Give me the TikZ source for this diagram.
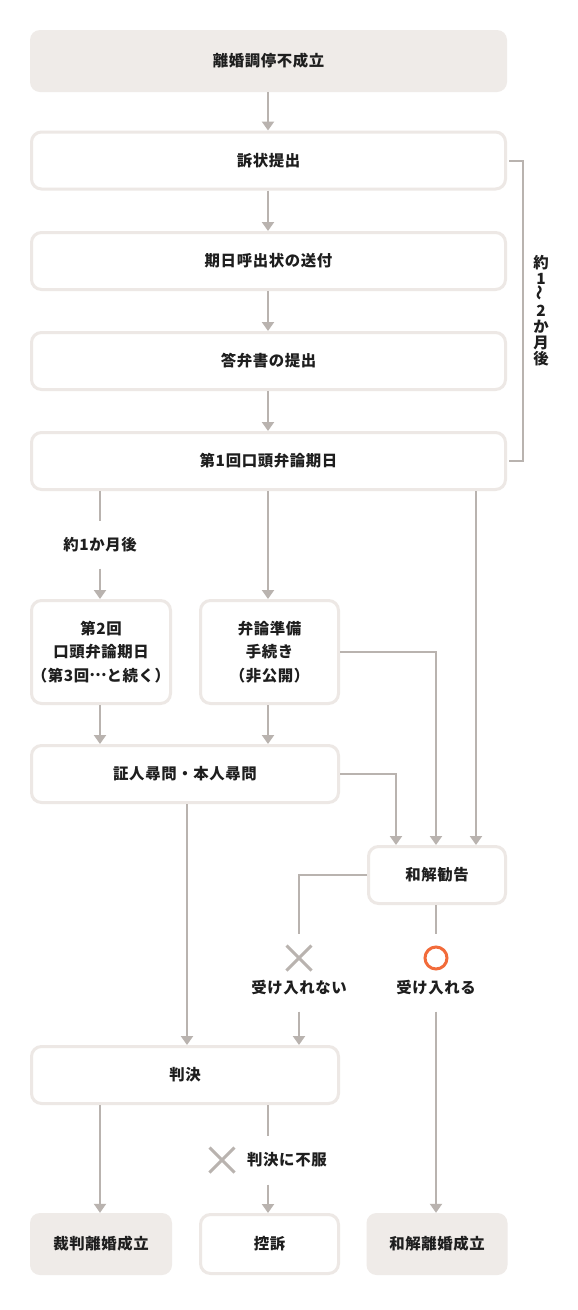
\documentclass[tikz,border=0pt]{standalone}
\usepackage{fontspec}
\setmainfont{Noto Sans CJK JP}
\usetikzlibrary{arrows.meta,shapes.misc}
\definecolor{boxfill}{HTML}{EFEBE8}
\definecolor{boxline}{HTML}{EDE8E5}
\definecolor{connc}{HTML}{B9B3AF}
\definecolor{txt}{HTML}{1E1E1E}
\definecolor{okc}{HTML}{F26B3A}
\begin{document}
\begin{tikzpicture}[x=1pt,y=-1pt,
  every node/.style={font=\fontsize{15.4}{23.5}\selectfont\bfseries\addfontfeatures{LetterSpace=4}, text=txt, align=center, inner sep=0pt},
  fbox/.style={fill=boxfill, rounded corners=10pt},
  wbox/.style={draw=boxline, line width=3pt, fill=white, rounded corners=10pt},
  conn/.style={draw=connc, line width=2pt},
  arr/.style={conn, -{Triangle[width=12pt,length=9pt]}},
  xmark/.style={cross out, draw=connc, line width=3pt, minimum size=22pt},
  omark/.style={circle, draw=okc, line width=3pt, minimum size=22pt}
]
\useasboundingbox[fill=white] (0,0) rectangle (578,1310);

% main column
\node[fbox, minimum width=477pt, minimum height=62pt] (n1) at (268.5,61) {離婚調停不成立};
\node[wbox, minimum width=474pt, minimum height=57pt] (n2) at (268.5,160.5) {訴状提出};
\node[wbox, minimum width=474pt, minimum height=57pt] (n3) at (268.5,261) {期日呼出状の送付};
\node[wbox, minimum width=474pt, minimum height=57pt] (n4) at (268.5,361) {答弁書の提出};
\node[wbox, minimum width=474pt, minimum height=57pt] (n5) at (268.5,461) {第1回口頭弁論期日};

\node[wbox, minimum width=139pt, minimum height=103pt] (n6) at (101,652) {第2回\\口頭弁論期日\\（第3回\raisebox{0.32em}{…}と続く）};
\node[wbox, minimum width=138pt, minimum height=103pt] (n7) at (269.5,652) {弁論準備\\手続き\\（非公開）};
\node[wbox, minimum width=307pt, minimum height=57pt] (n8) at (185,774) {証人尋問・本人尋問};
\node[wbox, minimum width=137pt, minimum height=57pt] (n9) at (437,875) {和解勧告};
\node[wbox, minimum width=307pt, minimum height=57pt] (n10) at (185,1075) {判決};

\node[fbox, minimum width=142pt, minimum height=62pt] (n11) at (101,1244) {裁判離婚成立};
\node[wbox, minimum width=138pt, minimum height=59pt] (n12) at (269.5,1244) {控訴};
\node[fbox, minimum width=141pt, minimum height=62pt] (n13) at (437,1244) {和解離婚成立};

% labels and marks
\node (l1) at (100,545) {約1か月後};
\node[xmark] (x1) at (299,958) {};
\node (l2) at (299,988) {受け入れない};
\node[omark] (o1) at (436,958) {};
\node (l3) at (436,988) {受け入れる};
\node[xmark] (x2) at (222,1160) {};
\node[anchor=west] (l4) at (247,1160) {判決に不服};
\node[font=\fontsize{15.4}{16}\selectfont\bfseries] (l5) at (541,311) {約\\1\\\rotatebox{90}{〜}\\2\\か\\月\\後};

% helper columns
\coordinate (cA) at (396,0);
\coordinate (cB) at (436,0);
\coordinate (cC) at (476,0);
\coordinate (cD) at (187,0);
\coordinate (cE) at (268,0);
\coordinate (cF) at (100,0);
\coordinate (br) at (523,311);

% connectors
\draw[arr] (n1.south -| cE) -- (n2.north -| cE);
\draw[arr] (n2.south -| cE) -- (n3.north -| cE);
\draw[arr] (n3.south -| cE) -- (n4.north -| cE);
\draw[arr] (n4.south -| cE) -- (n5.north -| cE);
\draw[conn] ([xshift=2pt]n2.east) -| (br) |- ([xshift=2pt]n5.east);

\draw[conn] (n5.south -| cF) -- ([yshift=16pt]l1.north -| cF);
\draw[arr] ([yshift=-16pt]l1.south -| cF) -- (n6.north -| cF);
\draw[arr] (n5.south -| cE) -- (n7.north -| cE);
\draw[arr] (n5.south -| cC) -- (n9.north -| cC);
\draw[arr] (n7.east) -| (n9.north -| cB);
\draw[arr] (n8.east) -| (n9.north -| cA);
\draw[arr] (n6.south -| cF) -- (n8.north -| cF);
\draw[arr] (n7.south -| cE) -- (n8.north -| cE);
\draw[arr] (n8.south -| cD) -- (n10.north -| cD);

\draw[conn] (n9.west) -| ([yshift=12pt]x1.north);
\draw[arr] ([yshift=-16pt]l2.south) -- (n10.north -| l2);
\draw[conn] (n9.south -| o1) -- ([yshift=12pt]o1.north);
\draw[arr] ([yshift=-16pt]l3.south) -- (n13.north -| l3);

\draw[arr] (n10.south -| cF) -- (n11.north -| cF);
\draw[conn] (n10.south -| cE) -- ([yshift=12pt]x2.north -| cE);
\draw[arr] ([yshift=-12pt]x2.south -| cE) -- (n12.north -| cE);
\end{tikzpicture}
\end{document}
